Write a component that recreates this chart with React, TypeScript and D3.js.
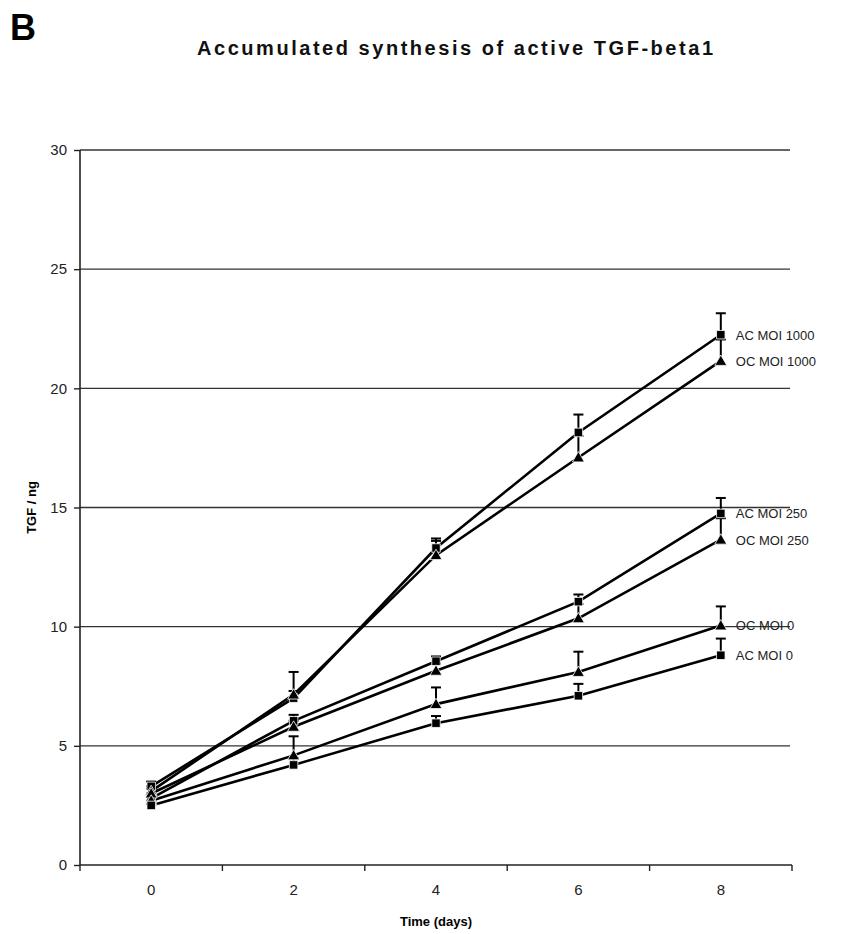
import React, { useEffect, useRef } from 'react';
import * as d3 from 'd3';

// days on the category axis
const days = ['0', '2', '4', '6', '8'];
const yTicks = [0, 5, 10, 15, 20, 25, 30];

// mean TGF (ng) and the plus error of every series
const acMoi1000 = [3.3, 7.0, 13.3, 18.15, 22.25];
const acMoi1000Err = [0.2, 0.3, 0.3, 0.75, 0.9];
const ocMoi1000 = [3.1, 7.15, 13.0, 17.1, 21.15];
const ocMoi1000Err = [0.2, 0.95, 0.7, 0.9, 0.9];
const acMoi250 = [2.8, 6.05, 8.55, 11.05, 14.75];
const acMoi250Err = [0.2, 0.25, 0.2, 0.3, 0.65];
const ocMoi250 = [3.0, 5.8, 8.15, 10.35, 13.65];
const ocMoi250Err = [0.2, 0.25, 0.3, 0.6, 0.9];
const ocMoi0 = [2.7, 4.6, 6.75, 8.1, 10.05];
const ocMoi0Err = [0.2, 0.8, 0.7, 0.85, 0.8];
const acMoi0 = [2.5, 4.2, 5.95, 7.1, 8.8];
const acMoi0Err = [0.2, 0.3, 0.3, 0.5, 0.7];

const seriesNames = ['AC MOI 1000', 'OC MOI 1000', 'AC MOI 250', 'OC MOI 250', 'OC MOI 0', 'AC MOI 0'];

const App = () => {
	const ref = useRef(null);
	const width = 843;
	const height = 934;

	useEffect(() => {
		const svg = d3.select(ref.current);
		svg.selectAll('*').remove();

		const series = [
			{ name: seriesNames[0], values: acMoi1000, err: acMoi1000Err, marker: 'square' },
			{ name: seriesNames[1], values: ocMoi1000, err: ocMoi1000Err, marker: 'triangle' },
			{ name: seriesNames[2], values: acMoi250, err: acMoi250Err, marker: 'square' },
			{ name: seriesNames[3], values: ocMoi250, err: ocMoi250Err, marker: 'triangle' },
			{ name: seriesNames[4], values: ocMoi0, err: ocMoi0Err, marker: 'triangle' },
			{ name: seriesNames[5], values: acMoi0, err: acMoi0Err, marker: 'square' },
		];

		const m = { l: 80, r: 51, t: 150, b: 69 };
		const plotw = width - m.l - m.r;
		const ploth = height - m.t - m.b;

		const band = d3.scaleBand().domain(days).range([0, plotw]);
		const xScale = d3.scalePoint().domain(days).range([0, plotw]).padding(0.5);
		const yScale = d3.scaleLinear().domain([0, 30]).range([ploth, 0]);

		const font = 'Arial, "Liberation Sans", sans-serif';

		svg.append('text')
			.attr('x', 10)
			.attr('y', 40)
			.attr('font-family', font)
			.attr('font-weight', 'bold')
			.attr('font-size', 36)
			.text('B');

		svg.append('text')
			.attr('x', 197)
			.attr('y', 55)
			.attr('font-family', font)
			.attr('font-weight', 'bold')
			.attr('font-size', 20)
			.attr('textLength', 516)
			.attr('lengthAdjust', 'spacing')
			.attr('fill', '#111')
			.text('Accumulated synthesis of active TGF-beta1');

		const g = svg.append('g').attr('transform', `translate(${m.l},${m.t})`);

		// gridlines
		g.selectAll('.grid')
			.data(yTicks.filter(d => d > 0))
			.join('line')
			.attr('class', 'grid')
			.attr('x1', 0)
			.attr('x2', plotw - 2)
			.attr('y1', d => yScale(d))
			.attr('y2', d => yScale(d))
			.attr('stroke', '#333')
			.attr('stroke-width', 1.4);

		// y axis
		const yAxis = g.append('g').call(d3.axisLeft(yScale).tickValues(yTicks).tickSize(6).tickPadding(7));
		yAxis.select('.domain').attr('stroke', '#222').attr('stroke-width', 1.6).attr('d', `M0,0V${ploth}`);
		yAxis.selectAll('.tick line').attr('stroke', '#222').attr('stroke-width', 1.4);
		yAxis.selectAll('.tick text')
			.attr('font-family', font)
			.attr('font-size', 15)
			.attr('fill', '#222');

		// x axis (category boundaries carry the ticks)
		const xg = g.append('g').attr('transform', `translate(0,${ploth})`);
		xg.append('line')
			.attr('x1', 0)
			.attr('x2', plotw)
			.attr('stroke', '#222')
			.attr('stroke-width', 1.6);
		const bounds = days.map(d => band(d)).concat([plotw]);
		xg.selectAll('.xtick')
			.data(bounds)
			.join('line')
			.attr('class', 'xtick')
			.attr('x1', d => d)
			.attr('x2', d => d)
			.attr('y1', 0)
			.attr('y2', 6)
			.attr('stroke', '#222')
			.attr('stroke-width', 1.4);
		xg.selectAll('.xlabel')
			.data(days)
			.join('text')
			.attr('class', 'xlabel')
			.attr('x', d => xScale(d))
			.attr('y', 30)
			.attr('text-anchor', 'middle')
			.attr('font-family', font)
			.attr('font-size', 15)
			.attr('fill', '#222')
			.text(d => d);

		svg.append('text')
			.attr('x', m.l + plotw / 2)
			.attr('y', 926)
			.attr('text-anchor', 'middle')
			.attr('font-family', font)
			.attr('font-weight', 'bold')
			.attr('font-size', 13)
			.text('Time (days)');

		svg.append('text')
			.attr('transform', `translate(36,${m.t + ploth / 2}) rotate(-90)`)
			.attr('text-anchor', 'middle')
			.attr('font-family', font)
			.attr('font-weight', 'bold')
			.attr('font-size', 13)
			.text('TGF / ng');

		const line = d3
			.line()
			.x((d, i) => xScale(days[i]))
			.y(d => yScale(d));

		// error bars (plus side only)
		series.forEach(s => {
			const eg = g.append('g');
			s.values.forEach((v, i) => {
				const x = xScale(days[i]);
				eg.append('line')
					.attr('x1', x)
					.attr('x2', x)
					.attr('y1', yScale(v))
					.attr('y2', yScale(v + s.err[i]))
					.attr('stroke', '#000')
					.attr('stroke-width', 2);
				eg.append('line')
					.attr('x1', x - 5)
					.attr('x2', x + 5)
					.attr('y1', yScale(v + s.err[i]))
					.attr('y2', yScale(v + s.err[i]))
					.attr('stroke', '#000')
					.attr('stroke-width', 2);
			});
		});

		// lines
		g.selectAll('.serie')
			.data(series)
			.join('path')
			.attr('class', 'serie')
			.attr('d', d => line(d.values))
			.attr('fill', 'none')
			.attr('stroke', '#000')
			.attr('stroke-width', 2.6);

		// markers
		series.forEach(s => {
			const sym = d3.symbol().type(s.marker === 'square' ? d3.symbolSquare : d3.symbolTriangle).size(s.marker === 'square' ? 72 : 62);
			g.append('g')
				.selectAll('path')
				.data(s.values)
				.join('path')
				.attr('transform', (d, i) => `translate(${xScale(days[i])},${yScale(d) + (s.marker === 'triangle' ? 1 : 0)})`)
				.attr('d', sym)
				.attr('fill', '#000')
				.attr('stroke', '#fff')
				.attr('stroke-width', 0.8);
		});

		// series labels next to the last point
		g.selectAll('.slabel')
			.data(series)
			.join('text')
			.attr('class', 'slabel')
			.attr('x', xScale(days[days.length - 1]) + 15)
			.attr('y', d => yScale(d.values[d.values.length - 1]) + 5)
			.attr('font-family', font)
			.attr('font-size', 13)
			.attr('fill', '#222')
			.text(d => d.name);
	}, []);

	return (
		<svg ref={ref} width={width} height={height} style={{ position: 'absolute', left: 0, top: 0, background: '#fff' }} />
	);
};

export default App;
